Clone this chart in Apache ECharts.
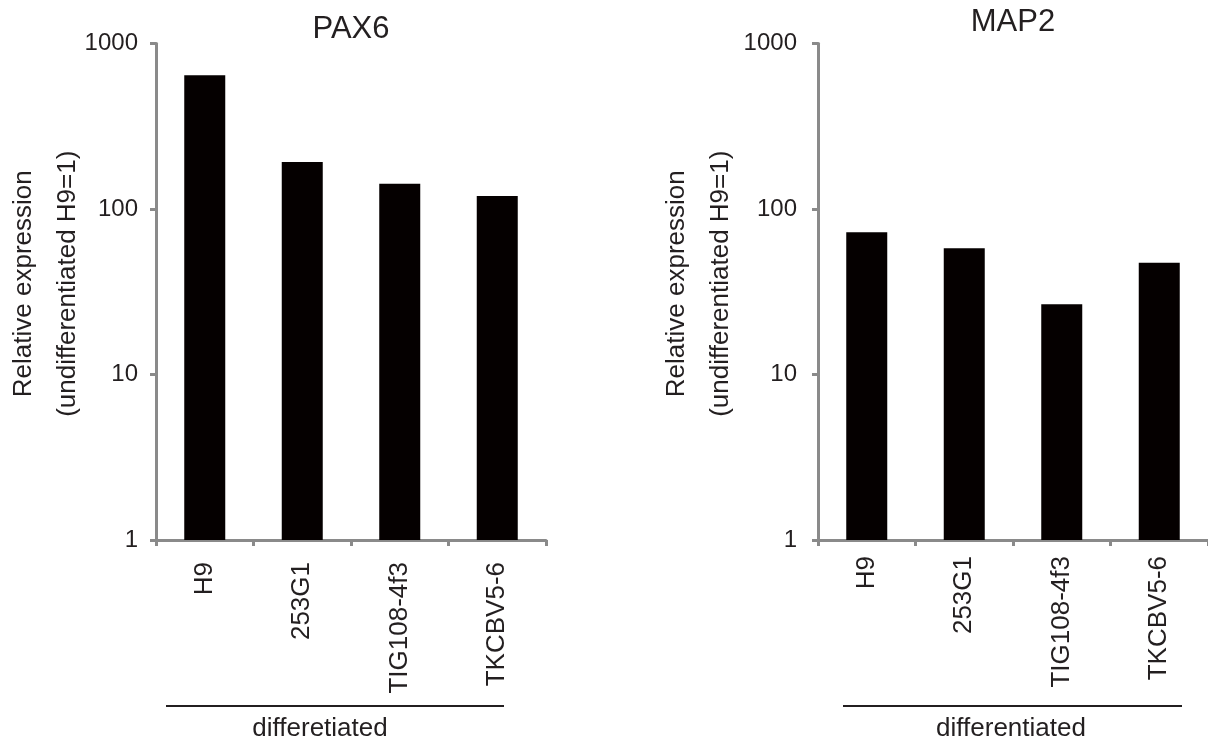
<!DOCTYPE html>
<html>
<head>
<meta charset="utf-8">
<script src="https://cdn.jsdelivr.net/npm/echarts@6/dist/echarts.min.js"></script>
<style>
  html, body { margin: 0; padding: 0; background: #fff; }
  #chart { width: 1208px; height: 749px; }
</style>
</head>
<body>
<div id="chart"></div>
<script>
// Cell lines, shared by both panels
const categories = ['H9', '253G1', 'TIG108-4f3', 'TKCBV5-6'];
// Relative expression (undifferentiated H9 = 1), log scale
const pax6Values = [642, 192, 142, 120];
const map2Values = [72.3, 57.9, 26.6, 47.4];
const panelTitles = ['PAX6', 'MAP2'];
const groupLabels = ['differetiated', 'differentiated'];
const yAxisTitle = 'Relative expression\n(undifferentiated H9=1)';

const FONT = 'Liberation Sans, Arial, Helvetica, sans-serif';
const TEXT = '#231f20';
const AXIS = '#8a8a8a';

const gridTop = 43.5, gridHeight = 496.5;
const panels = [
  { left: 156, width: 390, titleX: 351, titleTop: 14, labelMargin: 22, nameGap: 66, tickMargin: 18 },
  { left: 818, width: 390, titleX: 1013, titleTop: 7, labelMargin: 16, nameGap: 75, tickMargin: 21 }
];

const chart = echarts.init(document.getElementById('chart'), null, { renderer: 'canvas' });

const option = {
  animation: false,
  backgroundColor: '#fff',
  title: panels.map((p, i) => ({
    text: panelTitles[i],
    left: p.titleX,
    top: p.titleTop,
    textAlign: 'center',
    padding: 0,
    textStyle: { fontFamily: FONT, fontSize: 31, fontWeight: 'normal', color: TEXT }
  })),
  grid: panels.map(p => ({
    left: p.left, top: gridTop, width: p.width, height: gridHeight,
    containLabel: false, outerBoundsMode: 'none'
  })),
  xAxis: panels.map((p, i) => ({
    type: 'category',
    gridIndex: i,
    data: categories,
    axisLine: { show: true, lineStyle: { color: AXIS, width: 3 } },
    axisTick: { show: true, length: 6, alignWithLabel: false, lineStyle: { color: AXIS, width: 3 } },
    axisLabel: {
      rotate: 90, margin: p.labelMargin, interval: 0,
      fontFamily: FONT, fontSize: 26, color: TEXT
    },
    splitLine: { show: false }
  })),
  yAxis: panels.map((p, i) => ({
    type: 'log',
    gridIndex: i,
    logBase: 10,
    min: 1,
    max: 1000,
    name: yAxisTitle,
    nameLocation: 'middle',
    nameGap: p.nameGap,
    nameMoveOverlap: false,
    nameTextStyle: {
      fontFamily: FONT, fontSize: 26, color: TEXT, lineHeight: 44,
      padding: [0, 0, 0, 16]
    },
    axisLine: { show: true, lineStyle: { color: AXIS, width: 3 } },
    axisTick: { show: true, length: 6, lineStyle: { color: AXIS, width: 3 } },
    minorTick: { show: false },
    axisLabel: {
      margin: p.tickMargin, fontFamily: FONT, fontSize: 24, color: TEXT,
      formatter: v => String(v)
    },
    splitLine: { show: false }
  })),
  series: [pax6Values, map2Values].map((vals, i) => ({
    type: 'bar',
    xAxisIndex: i,
    yAxisIndex: i,
    data: vals,
    barWidth: 41,
    itemStyle: { color: '#050000' }
  })),
  graphic: [
    // group brackets under the category labels
    { type: 'line', shape: { x1: 166, y1: 706, x2: 504, y2: 706 }, style: { stroke: TEXT, lineWidth: 2 } },
    { type: 'line', shape: { x1: 843, y1: 706, x2: 1182, y2: 706 }, style: { stroke: TEXT, lineWidth: 2 } },
    { type: 'text', x: 320, y: 729, style: { text: groupLabels[0], font: '26px ' + FONT, fill: TEXT, align: 'center', verticalAlign: 'middle' } },
    { type: 'text', x: 1011, y: 729, style: { text: groupLabels[1], font: '26px ' + FONT, fill: TEXT, align: 'center', verticalAlign: 'middle' } }
  ]
};

chart.setOption(option);
</script>
</body>
</html>
